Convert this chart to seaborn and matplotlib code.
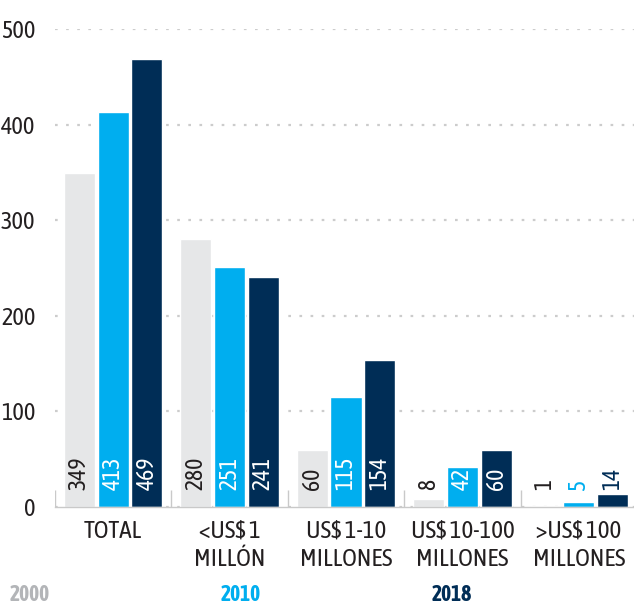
import matplotlib
matplotlib.use("Agg")
import matplotlib.pyplot as plt
import seaborn as sns
import pandas as pd
import numpy as np

categories = ["TOTAL", "<US$ 1\nMILLÓN", "US$ 1-10\nMILLONES", "US$ 10-100\nMILLONES", ">US$ 100\nMILLONES"]
years = ["2000", "2010", "2018"]
values_2000 = [349, 280, 60, 8, 1]
values_2010 = [413, 251, 115, 42, 5]
values_2018 = [469, 241, 154, 60, 14]
yticks = [0, 100, 200, 300, 400, 500]

colors = ["#e6e7e8", "#00aeef", "#002d56"]
text_dark = "#231f20"
label_inside = [text_dark, "white", "white"]
label_outside = [text_dark, "#00aeef", "#002d56"]
legend_colors = ["#b3b5b8", "#00aeef", "#002d56"]

sns.set_theme(style="white")
plt.rcParams["font.family"] = ["Asap Condensed", "Liberation Sans Narrow", "DejaVu Sans"]

df = pd.DataFrame({
    "cat": categories * 3,
    "year": [y for y in years for _ in categories],
    "value": values_2000 + values_2010 + values_2018,
})

fig = plt.figure(figsize=(6.34, 6.07), dpi=100)
W, H = 634, 607
ax = fig.add_axes([55 / W, (H - 507) / H, 582 / W, (507 - 29) / H])

sns.barplot(data=df, x="cat", y="value", hue="year", order=categories,
            hue_order=years, palette=colors, width=0.87, gap=0.08,
            saturation=1, ax=ax, legend=False, errorbar=None)

ax.set_ylim(0, 500)
ax.set_xlim(-0.5, len(categories) - 0.5)
ax.set_yticks(yticks)
ax.set_yticklabels([str(t) for t in yticks])
ax.yaxis.grid(True, linestyle=(0, (1.2, 3.8)), color="#cccccc", linewidth=1.6)
ax.set_axisbelow(True)
for s in ["top", "right", "left"]:
    ax.spines[s].set_visible(False)
ax.spines["bottom"].set_color("#c9c9c9")
ax.spines["bottom"].set_linewidth(1.0)
ax.tick_params(axis="y", length=0, pad=14, labelsize=17.5, labelcolor=text_dark)
ax.tick_params(axis="x", length=0, pad=9, labelsize=18, labelcolor=text_dark)
ax.set_xlabel("")
ax.set_ylabel("")
for lbl in ax.get_xticklabels():
    lbl.set_linespacing(1.28)

# category separator ticks
bounds = np.arange(len(categories)) - 0.5
ax.vlines(bounds, 0, 18, color="#c9c9c9", linewidth=1.0)

# value labels
series = [values_2000, values_2010, values_2018]
for i, containers in enumerate(ax.containers):
    for j, bar in enumerate(containers.patches):
        v = series[i][j]
        xc = bar.get_x() + bar.get_width() / 2
        col = label_inside[i] if v >= 40 else label_outside[i]
        ax.text(xc, 18, str(v), rotation=90, ha="center", va="bottom",
                fontsize=17, color=col)

# legend as colored text
for k, (yr, c) in enumerate(zip(years, legend_colors)):
    fig.text((30 + 211 * k) / W, (H - 595) / H, yr, ha="center", va="center",
             fontsize=15.5, fontweight="bold", color=c)

fig.savefig("out.png", dpi=100)
